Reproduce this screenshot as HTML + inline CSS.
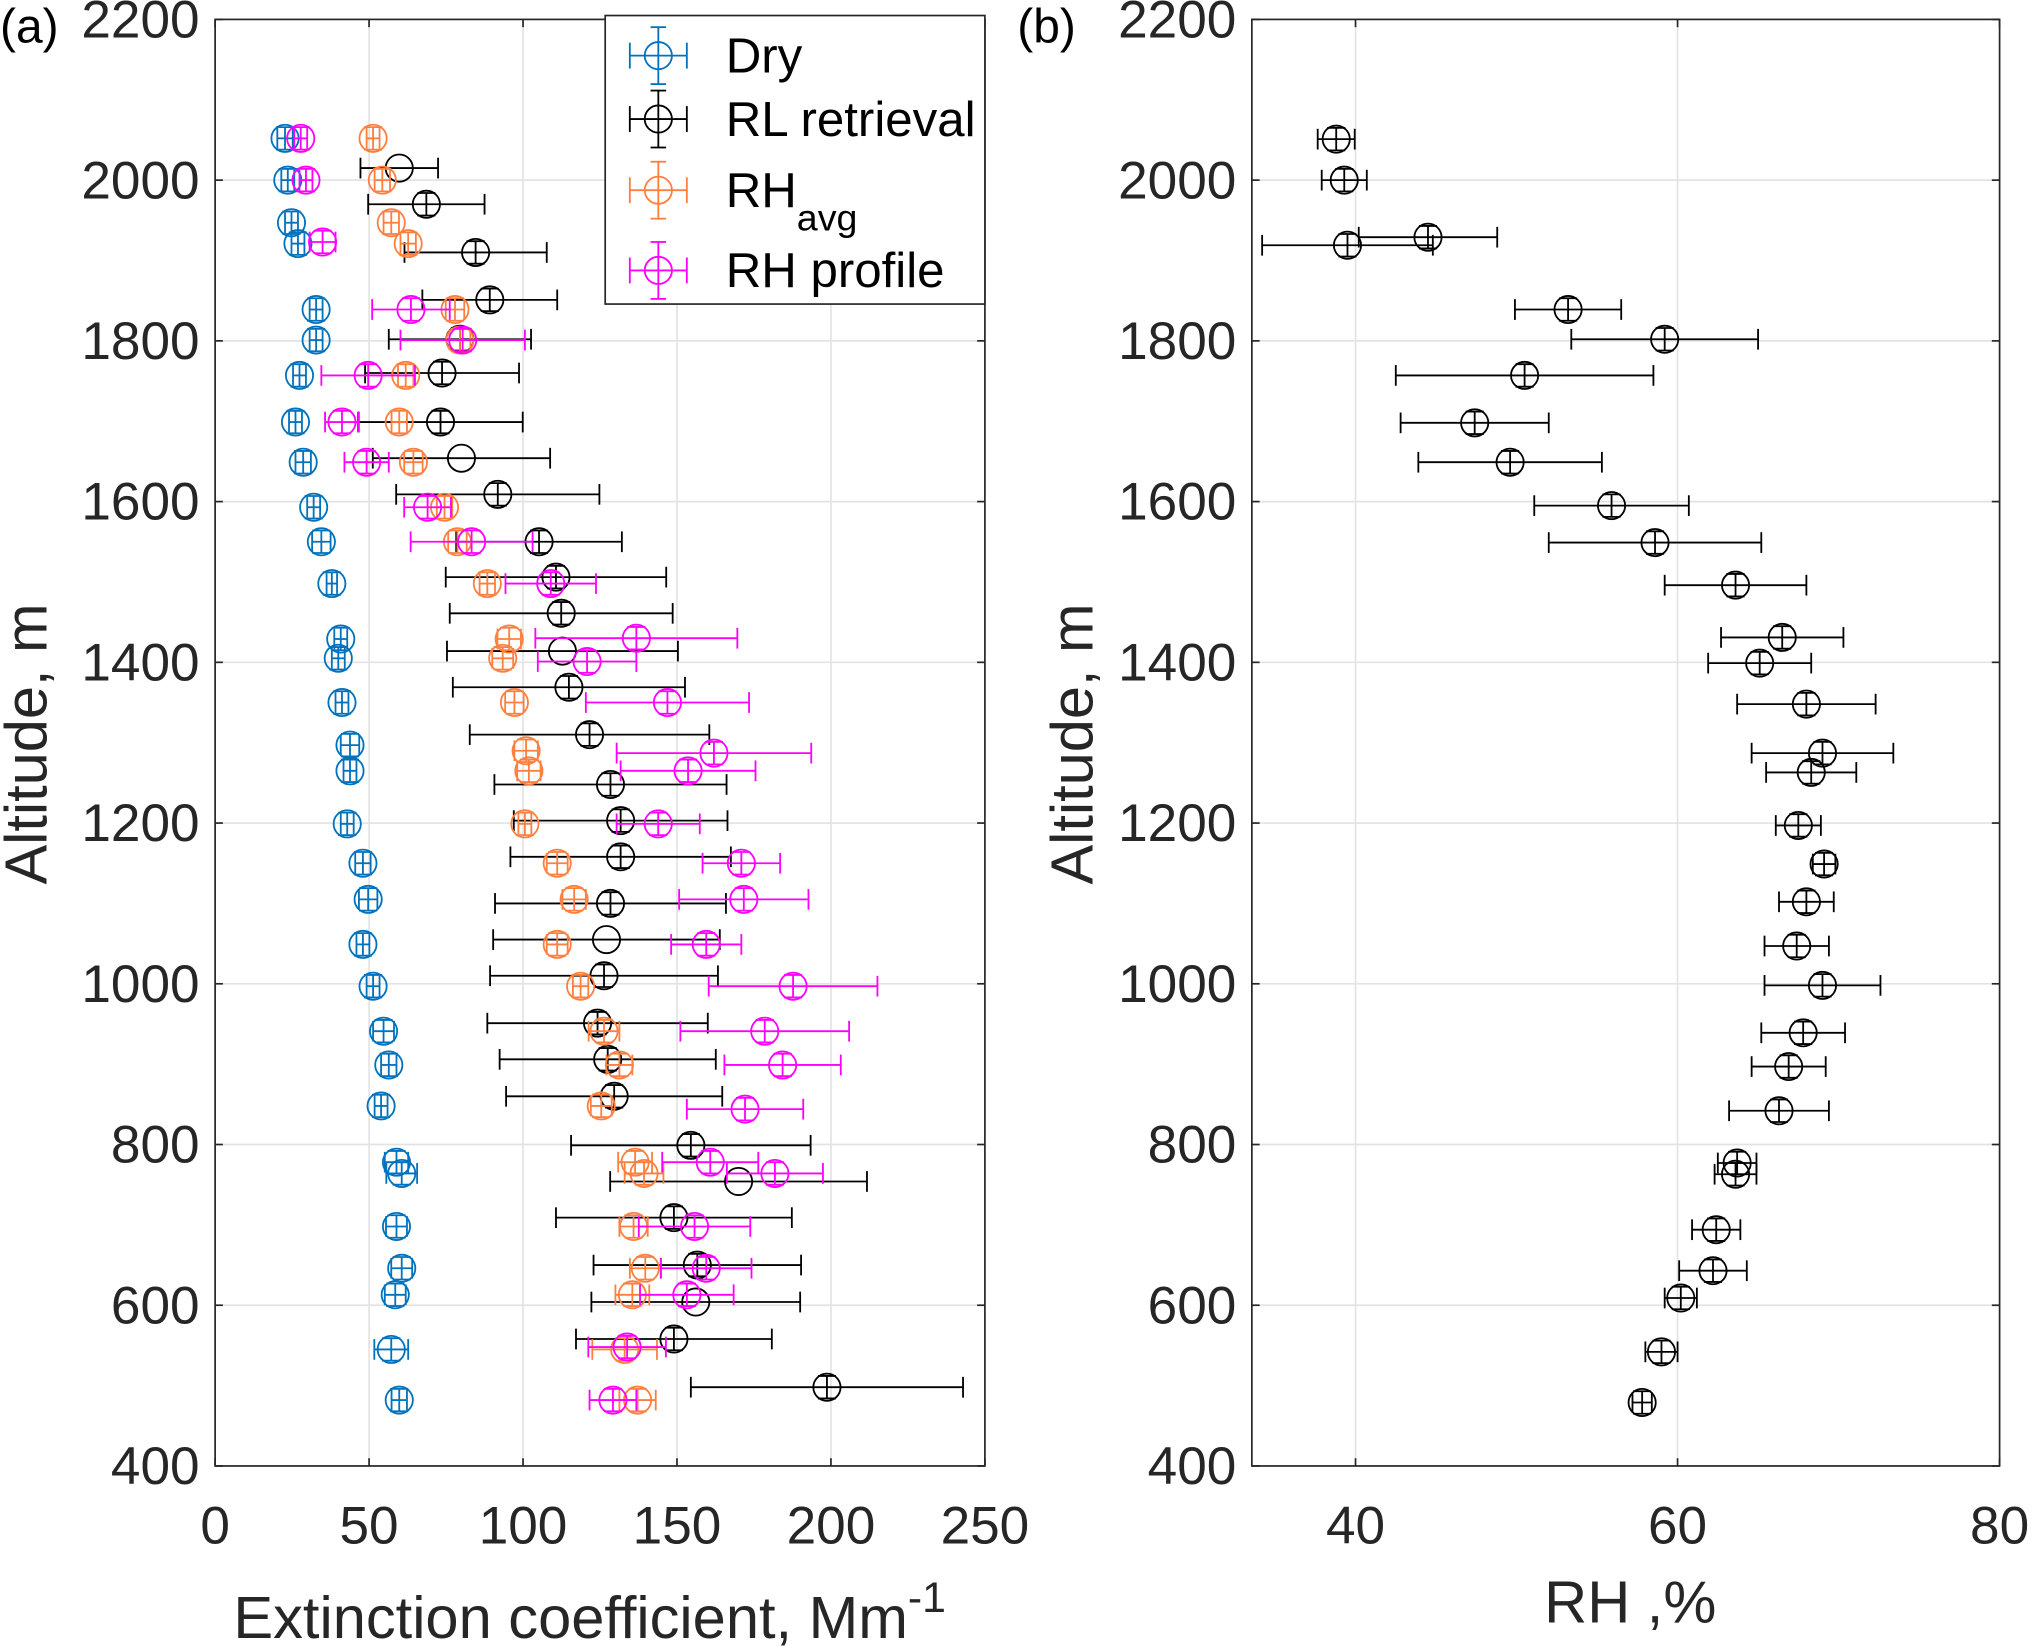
<!DOCTYPE html>
<html><head><meta charset="utf-8"><style>
html,body{margin:0;padding:0;background:#fff;}
svg{display:block;font-family:"Liberation Sans",sans-serif;}
</style></head><body>
<svg id="fig" width="2032" height="1651" viewBox="0 0 1568 1276" preserveAspectRatio="none" xmlns="http://www.w3.org/2000/svg">
<rect width="1568" height="1276" fill="#fff"/>
<g id="gA"></g>
<g id="gB"></g>
</svg>
<script>
// ---- Panel (a) data ----
const dryVal=[22.7,23.6,24.8,26.9,32.8,32.8,27.4,26.1,28.6,32.0,34.5,37.9,40.8,40.0,41.2,43.8,43.8,42.9,48.0,49.7,48.0,51.3,54.7,56.4,53.9,58.9,60.6,58.9,60.6,58.5,57.2,59.8];
const dryAlt=[2052,2000,1947,1921,1839,1801,1757,1699,1649,1593,1550,1498,1429,1405,1350,1297,1265,1199,1150,1105,1049,997,941,899,848,778,764,698,646,613,545,482];
const dryErr=[2.5,2.1,2.1,2.1,2.1,2.1,2.1,2.1,2.5,2.1,3,1.7,2.1,2.1,2.1,3,2.1,2.1,2.5,3,2.1,2.1,3.4,2.5,2.1,3.8,5,3.4,3.4,3.4,5.5,2.5];
const rlVal=[59.8,68.6,84.6,89.2,79.5,73.7,73.2,80.0,91.8,105.2,110.7,112.4,112.8,114.9,121.6,128.4,131.7,131.7,128.4,127.1,126.3,124.2,127.5,129.6,154.5,170.0,149.0,156.6,156.1,149.0,198.7];
const rlAlt=[2015,1970,1910,1851,1802,1760,1699,1654,1609,1550,1506,1461,1414,1369,1310,1248,1203,1158,1100,1055,1010,951,906,860,799,754,709,650,604,558,498];
const rlErr=[12.6,18.9,23.1,21.9,23.1,25.0,26.7,28.8,33.0,26.9,35.8,36.2,37.5,37.7,38.9,37.7,34.7,35.8,37.5,36.8,37.0,35.8,35.1,35.1,38.9,41.7,38.3,33.7,33.9,31.8,44.2];
const rlYErr=[0,14,14,14,14,14,14,0,14,14,14,14,0,14,14,14,14,14,14,0,14,14,14,14,14,0,14,14,0,14,14];
const avgVal=[51.3,54.3,57.2,62.7,77.9,79.5,61.9,59.8,64.4,74.5,78.7,88.4,95.5,93.4,97.2,101.0,101.9,100.6,111.1,116.6,111.1,118.7,126.3,131.3,125.4,136.4,139.3,135.9,139.7,135.5,133.0,137.2];
const avgAlt=[2052,2000,1947,1921,1839,1801,1757,1699,1649,1593,1550,1498,1429,1405,1350,1290,1265,1199,1150,1105,1049,997,941,899,848,778,764,698,646,613,545,482];
const avgErr=[2.1,2.5,2.5,2.5,3,3.4,2.5,2.5,3,2.5,3,2.5,3.8,3.4,3,3.8,3.8,2.1,3.4,3.8,3.4,2.5,5,4.2,3.4,5.5,6.3,4.6,5,5.5,10.5,5.9];
const prfVal=[27.8,29.5,34.9,63.6,80.4,49.7,41.2,49.2,69.0,83.3,109.0,136.8,120.8,146.9,162.0,153.6,143.9,170.9,171.7,159.5,187.7,178.5,184.3,172.1,160.8,181.8,155.7,159.5,153.2,133.8,129.2];
const prfAlt=[2052,2000,1923,1839,1801,1757,1699,1649,1593,1550,1498,1430,1401,1350,1287,1265,1199,1150,1105,1049,997,941,899,844,778,764,698,646,613,548,482];
const prfErr=[2.1,2.1,4.2,12.6,20.2,15.2,5.5,7.2,7.6,19.8,14.7,32.8,16.0,26.5,31.6,21.9,13.5,12.6,21.0,11.4,27.4,27.4,18.9,18.9,15.6,15.6,18.1,14.7,15.2,12.6,7.6];
const aXTicks=[0,50,100,150,200,250];
const altTicks=[400,600,800,1000,1200,1400,1600,1800,2000,2200];
// ---- Panel (b) data ----
const rhVal=[38.8,39.3,39.5,44.5,53.2,59.2,50.5,47.4,49.6,55.9,58.6,63.6,66.5,65.1,68.0,69.0,68.3,67.5,69.1,68.0,67.4,69.0,67.8,66.9,66.3,63.7,63.6,62.4,62.2,60.2,59.0,57.8];
const rhAlt=[2051,2000,1919,1929,1839,1802,1757,1698,1649,1595,1549,1496,1431,1399,1348,1287,1263,1197,1149,1102,1047,998,939,897,842,777,763,694,643,609,542,479];
const rhErr=[1.15,1.4,5.3,4.3,3.3,5.8,8.0,4.6,5.7,4.8,6.6,4.4,3.8,3.2,4.3,4.4,2.8,1.4,0.7,1.7,2.0,3.6,2.6,2.3,3.1,1.2,1.3,1.5,2.1,1.0,1.0,0.6];
const bXTicks=[40,60,80];

const NS="http://www.w3.org/2000/svg";
function mk(parent,tag,attrs,text){const e=document.createElementNS(NS,tag);for(const k in attrs)e.setAttribute(k,attrs[k]);if(text!==undefined)e.textContent=text;parent.appendChild(e);return e;}
const yA=a=>1133-(a-400)*(1133-15)/1800;
const xA=v=>166+v*(760-166)/250;
const xB=v=>1046+(v-40)*(1543-1046)/40;

function axes(g,x0,x1,xticks,xf){
  const grid=mk(g,'g',{});
  
  
  xticks.forEach(t=>{const x=xf(t);mk(grid,'line',{x1:x,x2:x,y1:15,y2:1133,stroke:'#e3e3e3','stroke-width':1.3});});
  altTicks.forEach(t=>{const y=yA(t);mk(grid,'line',{x1:x0,x2:x1,y1:y,y2:y,stroke:'#e3e3e3','stroke-width':1.3});});
  const box=mk(g,'rect',{x:x0,y:15,width:x1-x0,height:1118,fill:'none',stroke:'#262626','stroke-width':1.3});
  
  
  xticks.forEach(t=>{const x=xf(t);
    mk(g,'line',{x1:x,x2:x,y1:1133,y2:1127,stroke:'#262626','stroke-width':1.3});
    mk(g,'line',{x1:x,x2:x,y1:15,y2:21,stroke:'#262626','stroke-width':1.3});
    const l=mk(g,'text',{x:x,y:1193,'font-size':41,'text-anchor':'middle',fill:'#262626'},String(t));
    
    
  });
  altTicks.forEach(t=>{const y=yA(t);
    mk(g,'line',{x1:x0,x2:x0+6,y1:y,y2:y,stroke:'#262626','stroke-width':1.3});
    mk(g,'line',{x1:x1,x2:x1-6,y1:y,y2:y,stroke:'#262626','stroke-width':1.3});
    const l=mk(g,'text',{x:x0-12,y:y+14,'font-size':41,'text-anchor':'end',fill:'#262626'},String(t));
    
    
  });
}

function series(g,vals,alts,errs,yerrs,color,xf,clip,name){
  const s=mk(g,'g',{stroke:color,fill:'none','stroke-width':1.4,'clip-path':clip});
  
  
  vals.forEach((v,i)=>{
    const y=yA(alts[i]),x=xf(v),xl=xf(v-errs[i]),xr=xf(v+errs[i]);
    const p=mk(s,'g',{});
    
    
    mk(p,'line',{x1:xl,x2:xr,y1:y,y2:y});
    mk(p,'line',{x1:xl,x2:xl,y1:y-8,y2:y+8});
    mk(p,'line',{x1:xr,x2:xr,y1:y-8,y2:y+8});
    const ye=yerrs?yerrs[i]:14;
    if(ye>0){const yt=yA(alts[i]+ye),yb=yA(alts[i]-ye);
      mk(p,'line',{x1:x,x2:x,y1:yt,y2:yb});
      mk(p,'line',{x1:x-7,x2:x+7,y1:yt,y2:yt});
      mk(p,'line',{x1:x-7,x2:x+7,y1:yb,y2:yb});}
    mk(p,'circle',{cx:x,cy:y,r:10.5});
  });
}

const svg=document.getElementById('fig');
const defs=mk(svg,'defs',{});
const cA=mk(defs,'clipPath',{id:'clipA'});mk(cA,'rect',{x:166,y:15,width:594,height:1118});
const cB=mk(defs,'clipPath',{id:'clipB'});mk(cB,'rect',{x:966,y:15,width:577,height:1118});

const gA=document.getElementById('gA');
axes(gA,166,760,aXTicks,xA);
series(gA,dryVal,dryAlt,dryErr,null,'#0072BD',xA,'url(#clipA)','dry-series');
series(gA,rlVal,rlAlt,rlErr,rlYErr,'#000000',xA,'url(#clipA)','rl-retrieval-series');
series(gA,avgVal,avgAlt,avgErr,null,'#FF7F3F',xA,'url(#clipA)','rh-avg-series');
series(gA,prfVal,prfAlt,prfErr,null,'#FF00FF',xA,'url(#clipA)','rh-profile-series');

const gB=document.getElementById('gB');
axes(gB,966,1543,bXTicks,xB);
series(gB,rhVal,rhAlt,rhErr,null,'#000000',xB,'url(#clipB)','rh-series');

// legend
const lg=mk(gA,'g',{});


mk(lg,'rect',{x:467,y:12,width:293,height:223,fill:'#fff',stroke:'#262626','stroke-width':1.3});
const legItems=[['Dry','#0072BD',43],['RL retrieval','#000000',92],['RH','#FF7F3F',147],['RH profile','#FF00FF',209]];
legItems.forEach(it=>{
  const e=mk(lg,'g',{});
  
  
  const y=it[2],c=it[1];
  const st={stroke:c,'stroke-width':1.4,fill:'none'};
  mk(e,'line',Object.assign({x1:486,x2:530,y1:y,y2:y},st));
  mk(e,'line',Object.assign({x1:486,x2:486,y1:y-10,y2:y+10},st));
  mk(e,'line',Object.assign({x1:530,x2:530,y1:y-10,y2:y+10},st));
  mk(e,'line',Object.assign({x1:508,x2:508,y1:y-22,y2:y+22},st));
  mk(e,'line',Object.assign({x1:502,x2:514,y1:y-22,y2:y-22},st));
  mk(e,'line',Object.assign({x1:502,x2:514,y1:y+22,y2:y+22},st));
  mk(e,'circle',Object.assign({cx:508,cy:y,r:10.5},st));
  const t=mk(e,'text',{x:560,y:y+13,'font-size':38,fill:'#000'},it[0]);
  if(it[0]==='RH'){mk(t,'tspan',{dy:18,'font-size':29},'avg');}
});

function label(txt,attrs,name){const t=mk(svg,'text',attrs,txt);return t;}
label('(a)',{x:0,y:33,'font-size':37,fill:'#000'},'panel-a-label');
label('(b)',{x:785,y:33,'font-size':37,fill:'#000'},'panel-b-label');
label('Altitude, m',{x:0,y:0,'font-size':46,fill:'#262626','text-anchor':'middle',transform:'translate(36,575) rotate(-90)'},'y-axis-title-a');
label('Altitude, m',{x:0,y:0,'font-size':46,fill:'#262626','text-anchor':'middle',transform:'translate(843,575) rotate(-90)'},'y-axis-title-b');
const xt=label('Extinction coefficient, Mm',{x:455,y:1266,'font-size':46,fill:'#262626','text-anchor':'middle'},'x-axis-title-a');
mk(xt,'tspan',{dy:-20,'font-size':33},'-1');
label('RH ,%',{x:1258,y:1254,'font-size':46,fill:'#262626','text-anchor':'middle'},'x-axis-title-b');
</script>
</body></html>
